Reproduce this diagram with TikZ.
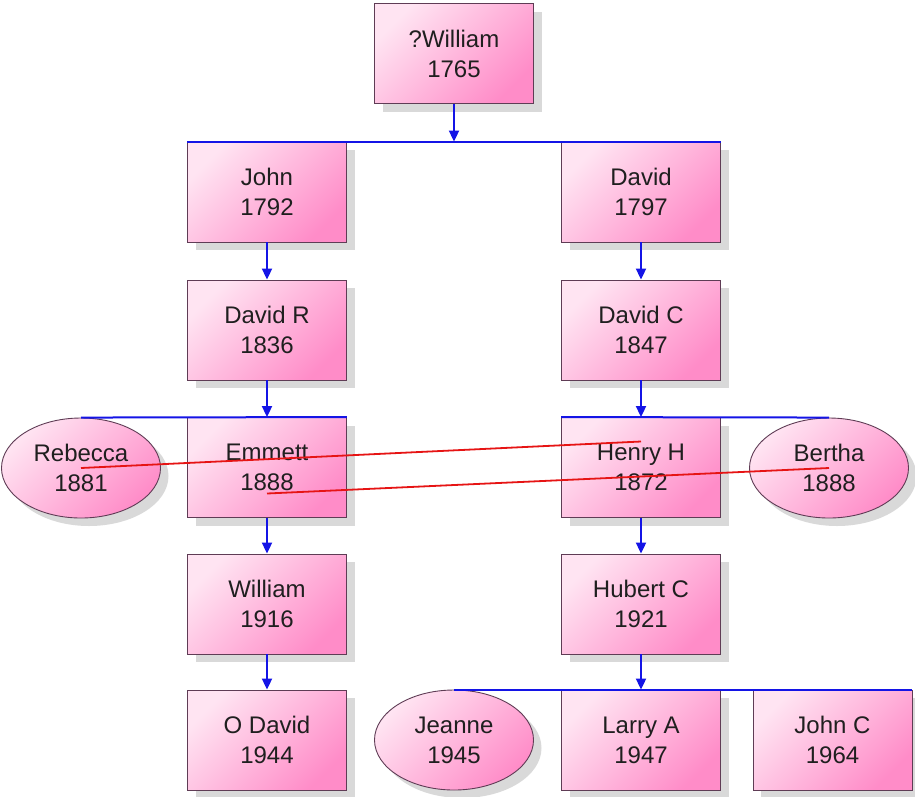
\documentclass[tikz,border=0pt]{standalone}
\usepackage{fontspec}
\setmainfont{Liberation Sans}
\usetikzlibrary{shadows,shapes.geometric,arrows.meta}
\definecolor{boxpink}{RGB}{255,140,200}
\definecolor{boxlight}{RGB}{255,228,242}
\definecolor{boxedge}{RGB}{95,60,85}
\definecolor{busblue}{RGB}{20,20,230}
\definecolor{linkred}{RGB}{230,20,20}
\tikzset{
 person/.style={draw=boxedge, line width=0.9pt, top color=boxlight, bottom color=boxpink, shading angle=45,
   minimum width=159pt, minimum height=100pt, inner sep=0pt, align=center,
   font=\fontsize{24}{30}\selectfont, text=black!88,
   drop shadow={fill=black!15, opacity=1, shadow xshift=8pt, shadow yshift=-8pt}},
 spouse/.style={person, ellipse},
 bus/.style={draw=busblue, line width=2pt},
 arr/.style={bus, -{Triangle[width=10pt,length=11pt]}},
 link/.style={draw=linkred, line width=1.8pt}
}
\begin{document}
\begin{tikzpicture}[x=1pt,y=-1pt]
\useasboundingbox (0,0) rectangle (915,796);
\node[person] (W) at (454,53.5) {?William\\1765};
\node[person] (John) at (267,192) {John\\1792};
\node[person] (David) at (641,192) {David\\1797};
\node[person] (DavidR) at (267,330) {David R\\1836};
\node[person] (DavidC) at (641,330) {David C\\1847};
\node[person] (Emmett) at (267,467.5) {Emmett\\1888};
\node[person] (Henry) at (641,467.5) {Henry H\\1872};
\node[spouse] (Rebecca) at (81,468) {Rebecca\\1881};
\node[spouse] (Bertha) at (829,468) {Bertha\\1888};
\node[person] (William) at (267,604) {William\\1916};
\node[person] (Hubert) at (641,604) {Hubert C\\1921};
\node[person] (ODavid) at (267,740) {O David\\1944};
\node[spouse] (Jeanne) at (454,740) {Jeanne\\1945};
\node[person] (Larry) at (641,740) {Larry A\\1947};
\node[person] (JohnC) at (832.5,740) {John C\\1964};
% buses
\draw[bus] (John.north west) -- (David.north east);
\draw[bus] (Rebecca.north) -- (Emmett.north east);
\draw[bus] (Henry.north west) -- (Bertha.north);
\draw[bus] (Jeanne.north) -- (JohnC.north east);
% arrows
\draw[arr] (W.south) -- (W.south |- John.north);
\draw[arr] (John.south) -- (DavidR.north);
\draw[arr] (David.south) -- (DavidC.north);
\draw[arr] (DavidR.south) -- (Emmett.north);
\draw[arr] (DavidC.south) -- (Henry.north);
\draw[arr] (Emmett.south) -- (William.north);
\draw[arr] (Henry.south) -- (Hubert.north);
\draw[arr] (William.south) -- (ODavid.north);
\draw[arr] (Hubert.south) -- (Larry.north);
% red links
\coordinate (henryL) at ([yshift=26pt]Henry.center);
\coordinate (emmettL) at ([yshift=-26pt]Emmett.center);
\draw[link] (Rebecca.center) -- (henryL);
\draw[link] (emmettL) -- (Bertha.center);
\end{tikzpicture}
\end{document}
